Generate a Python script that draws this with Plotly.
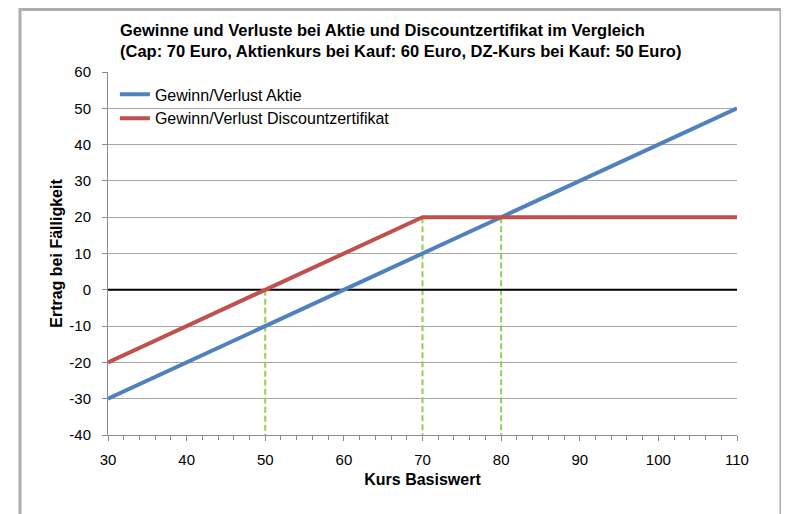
import plotly.graph_objects as go

kurs = [30, 40, 50, 60, 70, 80, 90, 100, 110]
aktie = [-30, -20, -10, 0, 10, 20, 30, 40, 50]
dz = [-20, -10, 0, 10, 20, 20, 20, 20, 20]

marker_x = [50, 70, 80]
marker_top = [0, 20, 20]

y_ticks = [-40, -30, -20, -10, 0, 10, 20, 30, 40, 50, 60]
y_ticktext = [str(v) for v in y_ticks]

FONT = "Liberation Sans, Arial, sans-serif"
W, H = 781, 506
L, T, R, B = 100, 64, 52, 79
PW, PH = W - L - R, H - T - B

fig = go.Figure()

for mx, mt in zip(marker_x, marker_top):
    fig.add_trace(go.Scatter(x=[mx, mx], y=[mt, -40], mode="lines",
                             line=dict(color="#92d050", width=2, dash="6px,3px"),
                             showlegend=False, hoverinfo="skip"))

fig.add_trace(go.Scatter(x=[30, 110], y=[0, 0], mode="lines",
                         line=dict(color="black", width=2),
                         showlegend=False, hoverinfo="skip"))

fig.add_trace(go.Scatter(x=kurs, y=aktie, mode="lines", name="Gewinn/Verlust Aktie",
                         line=dict(color="#4f81bd", width=4)))
fig.add_trace(go.Scatter(x=kurs, y=dz, mode="lines", name="Gewinn/Verlust Discountzertifikat",
                         line=dict(color="#c0504d", width=4)))

fig.update_layout(
    width=W, height=H,
    margin=dict(l=L, r=R, t=T, b=B, autoexpand=False),
    paper_bgcolor="white", plot_bgcolor="white",
    font=dict(family=FONT, color="black", size=15),
    title=dict(text="<b>Gewinne und Verluste bei Aktie und Discountzertifikat im Vergleich<br>(Cap: 70 Euro, Aktienkurs bei Kauf: 60 Euro, DZ-Kurs bei Kauf: 50 Euro)</b>",
               x=112/W, xanchor="left", xref="container",
               y=1-28/H, yanchor="top", font=dict(size=16.5, family=FONT)),
    legend=dict(x=0.011, y=0.985, xanchor="left", yanchor="top",
                bgcolor="rgba(0,0,0,0)", font=dict(size=16), tracegroupgap=0,
                itemwidth=30),
    xaxis=dict(range=[30, 110], dtick=10, tick0=30, showgrid=False, zeroline=False,
               showline=True, linecolor="#8c8c8c", linewidth=1, automargin=False,
               ticks="outside", ticklen=5, tickcolor="#8c8c8c", ticklabelstandoff=6,
               minor=dict(dtick=2, ticks="outside", ticklen=4, tickcolor="#8c8c8c"),
               title=dict(text="<b>Kurs Basiswert</b>", font=dict(size=16), standoff=6),
               tickfont=dict(size=15)),
    yaxis=dict(range=[-40, 60], tickmode="array", tickvals=y_ticks, ticktext=y_ticktext,
               showgrid=True, gridcolor="#a6a6a6", gridwidth=1, automargin=False,
               zeroline=False, showline=True, linecolor="#8c8c8c", linewidth=1,
               ticks="outside", ticklen=5, tickcolor="#8c8c8c", ticklabelstandoff=8,
               title=dict(text="<b>Ertrag bei Fälligkeit</b>", font=dict(size=16), standoff=2),
               tickfont=dict(size=15)),
    shapes=[dict(type="rect", xref="paper", yref="paper",
                 x0=(12 - L) / PW, x1=(773 - L) / PW,
                 y0=-(B + 40) / PH, y1=(H - B - 1.5) / PH,
                 line=dict(color="#b0aca8", width=3), layer="below")],
)

fig.write_html("out.html")
